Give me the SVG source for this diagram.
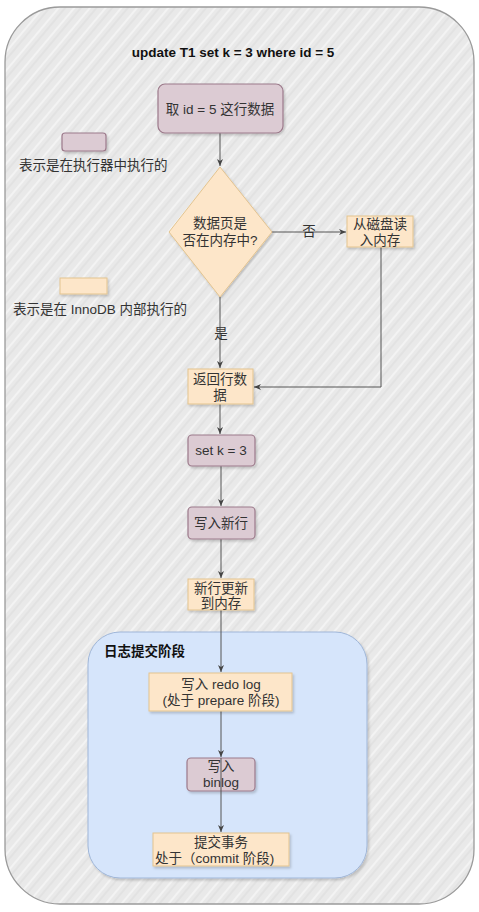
<svg xmlns="http://www.w3.org/2000/svg" width="479" height="912" viewBox="0 0 479 912">
<style>
text{font-family:"Liberation Sans","Noto Sans CJK SC",sans-serif;font-size:13.5px;fill:#333;text-anchor:middle}
.b{font-weight:bold;fill:#111}
.l{text-anchor:start}
.ex{fill:#dccbd3;stroke:#9c7a8b;stroke-width:1.2}
.in{fill:#fde6c9;stroke:#e3c48f;stroke-width:1}
.e{fill:none;stroke:#555;stroke-width:1}
</style>
<defs>
<pattern id="h" width="12" height="12" patternUnits="userSpaceOnUse" patternTransform="rotate(-50)">
<rect width="12" height="12" fill="#e9e9e9"/>
<line x1="0" y1="2" x2="12" y2="2" stroke="#f8f8f8" stroke-width="1.4"/>
<line x1="0" y1="7" x2="12" y2="7" stroke="#d4d4d4" stroke-width="0.7"/>
</pattern>
<marker id="a" markerWidth="8" markerHeight="8" refX="7" refY="4" orient="auto" markerUnits="userSpaceOnUse">
<path d="M0,1 L7,4 L0,7 L2,4 Z" fill="#444"/>
</marker>
<filter id="s" x="-10%" y="-10%" width="130%" height="140%">
<feDropShadow dx="1.5" dy="2" stdDeviation="1" flood-color="#000" flood-opacity="0.18"/>
</filter>
</defs>
<rect width="479" height="912" fill="#ffffff"/>
<g id="container">
<rect x="5" y="7" width="469" height="897" rx="55" fill="url(#h)" stroke="#9a9a9a" stroke-width="1.3"/>
</g>
<g id="title"><text class="b" x="233" y="57" font-size="14.5">update T1 set k = 3 where id = 5</text></g>
<g id="log-phase">
<rect x="88" y="632" width="279" height="246" rx="32" fill="#d6e5fb" stroke="#9fb6d8" stroke-width="1" filter="url(#s)"/>
<text class="b l" x="104" y="656">日志提交阶段</text>
</g>
<g id="legend-executor">
<rect class="ex" x="62" y="133" width="44" height="18" rx="3" filter="url(#s)"/>
<text class="l" x="19" y="170">表示是在执行器中执行的</text>
</g>
<g id="legend-innodb">
<rect class="in" x="60" y="278" width="47" height="16" filter="url(#s)"/>
<text class="l" x="13" y="314">表示是在 InnoDB 内部执行的</text>
</g>
<g id="connectors">
<line class="e" x1="220" y1="133" x2="220" y2="166" marker-end="url(#a)"/>
<line class="e" x1="272" y1="232" x2="346" y2="232" marker-end="url(#a)"/>
<text x="309" y="236">否</text>
<line class="e" x1="220" y1="297" x2="220" y2="368" marker-end="url(#a)"/>
<text x="221" y="338">是</text>
<polyline class="e" points="381,247 381,387 254,387" marker-end="url(#a)"/>
<line class="e" x1="220" y1="404" x2="220" y2="434" marker-end="url(#a)"/>
<line class="e" x1="221" y1="466" x2="221" y2="506" marker-end="url(#a)"/>
<line class="e" x1="221" y1="539" x2="221" y2="578" marker-end="url(#a)"/>
<line class="e" x1="221" y1="610" x2="221" y2="672" marker-end="url(#a)"/>
<line class="e" x1="221" y1="711" x2="221" y2="757" marker-end="url(#a)"/>
</g>
<g id="n-fetch">
<rect class="ex" x="158" y="84" width="125" height="49" rx="7" filter="url(#s)"/>
<text x="220" y="114" font-size="14.5">取 id = 5 这行数据</text>
</g>
<g id="n-decision">
<polygon points="220,167 272,232 220,297 169,232" fill="#fde6c9" stroke="#e3c48f" stroke-width="1" filter="url(#s)"/>
<text x="220" y="228">数据页是</text>
<text x="220" y="245">否在内存中?</text>
</g>
<g id="n-disk">
<rect class="in" x="347" y="216" width="66" height="31" filter="url(#s)"/>
<text x="380" y="229">从磁盘读</text>
<text x="380" y="245">入内存</text>
</g>
<g id="n-return">
<rect class="in" x="188" y="369" width="65" height="35" filter="url(#s)"/>
<text x="220" y="384">返回行数</text>
<text x="220" y="400">据</text>
</g>
<g id="n-setk">
<rect class="ex" x="188" y="435" width="67" height="31" rx="4" filter="url(#s)"/>
<text x="221" y="455">set k = 3</text>
</g>
<g id="n-write">
<rect class="ex" x="188" y="507" width="67" height="32" rx="4" filter="url(#s)"/>
<text x="221" y="528">写入新行</text>
</g>
<g id="n-update">
<rect class="in" x="188" y="579" width="66" height="31" filter="url(#s)"/>
<text x="221" y="593">新行更新</text>
<text x="221" y="608">到内存</text>
</g>
<g id="n-redo">
<rect class="in" x="149" y="673" width="143" height="38" filter="url(#s)"/>
<text x="221" y="689">写入 redo log</text>
<text x="221" y="705">(处于 prepare 阶段)</text>
</g>
<g id="n-binlog">
<rect class="ex" x="187" y="758" width="68" height="33" rx="4" filter="url(#s)"/>
<text x="221" y="771">写入</text>
<text x="221" y="787">binlog</text>
</g>
<g id="connectors-2">
<line class="e" x1="221" y1="758" x2="221" y2="832" marker-end="url(#a)"/>
</g>
<g id="n-commit">
<rect class="in" x="153" y="833" width="136" height="33" filter="url(#s)"/>
<text x="221" y="847">提交事务</text>
<text class="l" x="155" y="863">处于（commit 阶段)</text>
</g>
</svg>
